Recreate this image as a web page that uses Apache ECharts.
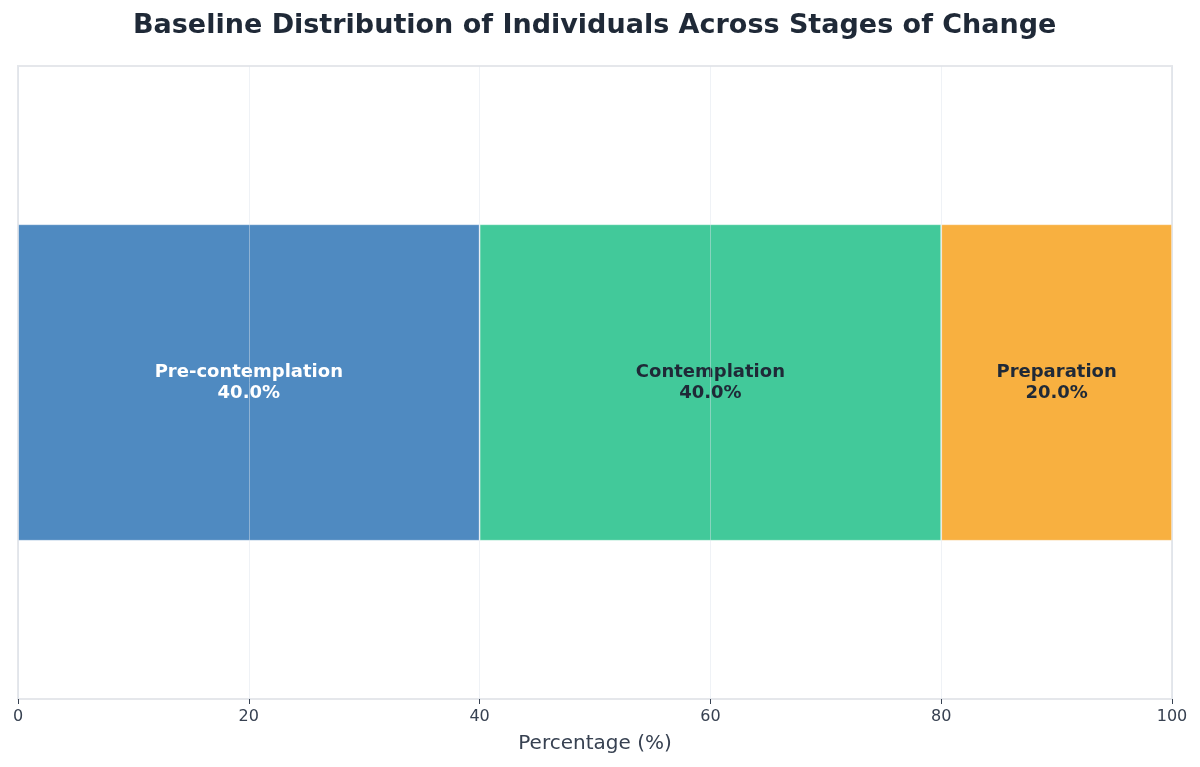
<!DOCTYPE html>
<html>
<head>
<meta charset="utf-8">
<script src="https://cdn.jsdelivr.net/npm/echarts@6/dist/echarts.min.js"></script>
<style>html,body{margin:0;padding:0;background:#fff;}#c{width:1200px;height:767px;}</style>
</head>
<body>
<div id="c"></div>
<script>
const stages = ['Pre-contemplation', 'Contemplation', 'Preparation'];
const percentages = [40.0, 40.0, 20.0];
const colors = ['#4F8AC1', '#42C99A', '#F8B040'];
const labelColors = ['#ffffff', '#1f2937', '#1f2937'];
const xTicks = [0, 20, 40, 60, 80, 100];
const FONT = "'DejaVu Sans', Verdana, sans-serif";

const chart = echarts.init(document.getElementById('c'));
const series = stages.map((s, i) => ({
  name: s,
  type: 'bar',
  stack: 'total',
  barWidth: '50%',
  data: [percentages[i]],
  itemStyle: { color: colors[i], borderColor: 'rgba(255,255,255,0.3)', borderWidth: 1 },
  label: {
    show: true,
    position: 'inside',
    formatter: () => s + '\n' + percentages[i].toFixed(1) + '%',
    color: labelColors[i],
    fontFamily: FONT,
    fontWeight: 'bold',
    fontSize: 18,
    lineHeight: 21,
    align: 'center'
  }
}));

chart.setOption({
  backgroundColor: '#ffffff',
  animation: false,
  title: {
    text: 'Baseline Distribution of Individuals Across Stages of Change',
    left: 128,
    top: 7,
    textStyle: { fontFamily: FONT, fontWeight: 'bold', fontSize: 27, color: '#1f2937' }
  },
  grid: { left: 18, right: 28, top: 66, bottom: 68, show: true, borderColor: '#e5e7eb', borderWidth: 2, backgroundColor: 'transparent' },
  xAxis: {
    type: 'value',
    min: 0, max: 100, interval: 20,
    z: 5,
    name: 'Percentage (%)',
    nameLocation: 'middle',
    nameGap: 35,
    nameTextStyle: { fontFamily: FONT, fontSize: 20, color: '#374151' },
    axisLine: { show: false },
    axisTick: { show: true, length: 5, lineStyle: { color: '#374151' } },
    axisLabel: { fontFamily: FONT, fontSize: 16, color: '#374151', margin: 10, formatter: v => xTicks.includes(v) ? String(v) : '' },
    splitLine: { show: true, lineStyle: { color: 'rgba(220,226,234,0.45)', width: 1 } }
  },
  yAxis: {
    type: 'category',
    data: ['Baseline'],
    axisLine: { show: false },
    axisTick: { show: false },
    axisLabel: { show: false },
    splitLine: { show: false }
  },
  series: series
});
</script>
</body>
</html>
